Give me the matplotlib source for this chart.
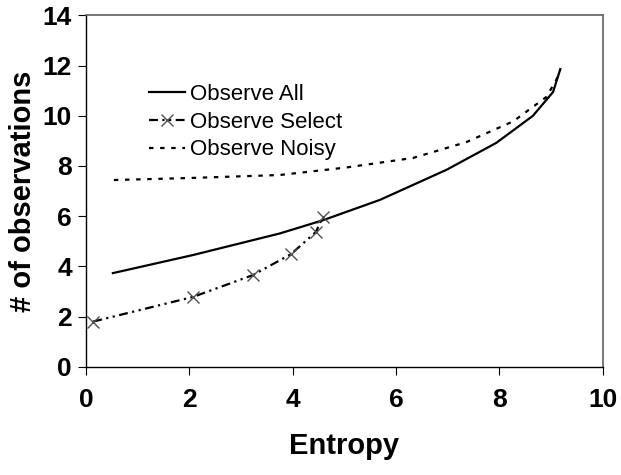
import matplotlib
matplotlib.use("Agg")
import matplotlib.pyplot as plt

plt.rcParams["font.family"] = ["Liberation Sans", "DejaVu Sans"]

# Observe All (solid)
all_x = [0.52, 2.07, 3.75, 4.59, 5.69, 6.98, 7.94, 8.65, 9.04, 9.18]
all_y = [3.73, 4.45, 5.31, 5.84, 6.65, 7.85, 8.92, 10.00, 10.95, 11.86]

# Observe Select (markers)
sel_x = [0.14, 2.07, 3.23, 3.97, 4.45, 4.58]
sel_y = [1.80, 2.78, 3.65, 4.49, 5.37, 5.96]

# Observe Noisy (dotted)
noisy_x = [0.54, 2.00, 3.75, 5.04, 6.33, 7.36, 8.27, 8.91, 9.10, 9.18]
noisy_y = [7.44, 7.52, 7.64, 7.94, 8.32, 8.95, 9.78, 10.75, 11.42, 11.86]

x_ticks = [0, 2, 4, 6, 8, 10]
y_ticks = [0, 2, 4, 6, 8, 10, 12, 14]

fig = plt.figure(figsize=(6.21, 4.75), dpi=100)
ax = fig.add_axes([0.1385, 0.228, 0.832, 0.7395])

ax.plot(all_x, all_y, color="black", lw=1.6, label="Observe All")
ax.plot(sel_x, sel_y, color="black", lw=1.6, ls=(0, (4, 2, 1, 2, 1, 2)),
        marker="x", markersize=8, markeredgewidth=1.0,
        markeredgecolor="#505050", label="Observe Select")
ax.plot(noisy_x, noisy_y, color="black", lw=1.6, ls=(0, (2, 3)),
        label="Observe Noisy")

ax.set_xlim(0, 10)
ax.set_ylim(0, 14)
ax.set_xticks(x_ticks)
ax.set_yticks(y_ticks)
ax.tick_params(direction="out", length=6, width=0.8, labelsize=19, pad=9)
for lab in ax.get_xticklabels() + ax.get_yticklabels():
    lab.set_fontweight("bold")
ax.tick_params(axis="y", pad=4)

for side in ("top", "right"):
    ax.spines[side].set_color("#606060")
    ax.spines[side].set_linewidth(1.2)
for side in ("left", "bottom"):
    ax.spines[side].set_linewidth(1.0)

ax.set_xlabel("Entropy", fontsize=21, fontweight="bold", labelpad=15)
ax.set_ylabel("# of observations", fontsize=21, fontweight="bold", labelpad=4)

ax.legend(loc="upper left", bbox_to_anchor=(0.105, 0.83), frameon=False,
          fontsize=16, handlelength=1.6, handletextpad=0.25, labelspacing=0.3,
          borderaxespad=0)

fig.savefig("out.png", dpi=100)
